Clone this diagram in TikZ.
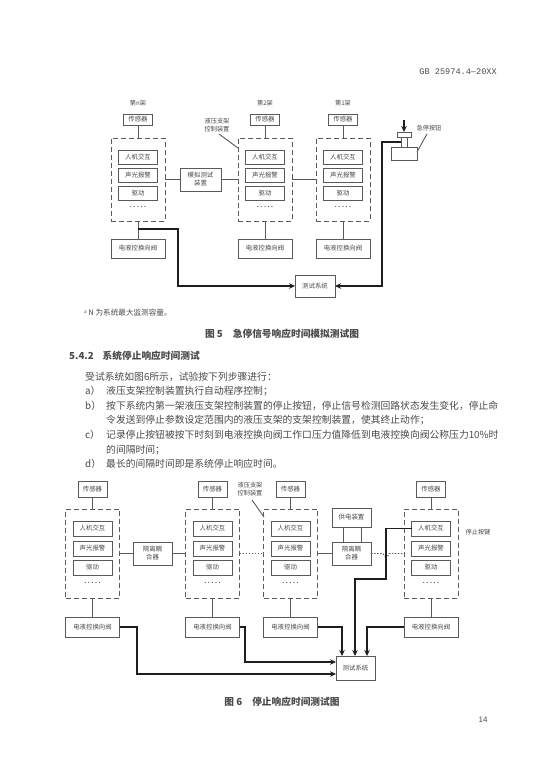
\documentclass[tikz,border=0pt]{standalone}
\usepackage{fontspec}
\setmainfont{Noto Sans CJK SC}
\newfontfamily\latinmono{Liberation Mono}
\newfontfamily\latinsans{Liberation Sans}
\usetikzlibrary{arrows.meta}
\definecolor{ink}{HTML}{4A4A4A}
\definecolor{linec}{HTML}{5A5A5A}
\definecolor{heavy}{HTML}{1E1E1E}
\tikzset{
 box/.style={draw=linec,line width=0.9pt,inner sep=0pt,outer sep=0pt,align=center,text=ink,font=\fontsize{6.4}{8}\selectfont},
 dashbox/.style={draw=linec,line width=0.9pt,dash pattern=on 5pt off 3pt,inner sep=0pt,outer sep=0pt},
 thin link/.style={draw=linec,line width=0.9pt},
 dot link/.style={draw=linec,line width=0.8pt,dash pattern=on 1.5pt off 1.5pt},
 heavy link/.style={draw=heavy,line width=1.7pt,line join=miter},
 heavy arrow/.style={heavy link,-{Stealth[length=6pt,width=5.5pt]}},
 lab/.style={inner sep=0pt,text=ink,align=center,font=\fontsize{6.2}{7.6}\selectfont},
 body/.style={inner sep=0pt,anchor=west,text=ink,font=\fontsize{9.8}{11}\selectfont},
 capt/.style={inner sep=0pt,text=ink,font=\fontsize{9.7}{11}\selectfont\bfseries},
}
% style, name, x1, y1, x2, y2, text
\newcommand\bx[7]{%
 \pgfmathsetmacro\rkW{#5-#3}\pgfmathsetmacro\rkH{#6-#4}%
 \pgfmathsetmacro\rkX{(#5+#3)/2}\pgfmathsetmacro\rkY{(#6+#4)/2}%
 \node[#1,minimum width=\rkW pt,minimum height=\rkH pt] (#2) at (\rkX,\rkY) {#7};}
\newcommand\rackgen[2]{%
 \pgfmathsetmacro\rkSL{#2-14.5}\pgfmathsetmacro\rkSR{#2+14.5}%
 \pgfmathsetmacro\rkDL{#2-27}\pgfmathsetmacro\rkDR{#2+27}%
 \pgfmathsetmacro\rkIL{#2-19.5}\pgfmathsetmacro\rkIR{#2+19.5}%
 \bx{box}{#1s}{\rkSL}{\rkST}{\rkSR}{\rkSB}{传感器}
 \bx{dashbox}{#1d}{\rkDL}{\rkDT}{\rkDR}{\rkDB}{}
 \bx{box}{#1a}{\rkIL}{\rkIA}{\rkIR}{\rkIAb}{人机交互}
 \bx{box}{#1b}{\rkIL}{\rkIB}{\rkIR}{\rkIBb}{声光报警}
 \bx{box}{#1c}{\rkIL}{\rkIC}{\rkIR}{\rkICb}{驱动}
 \node[lab,font=\latinsans\fontsize{7}{8}\selectfont\bfseries] (#1e) at (#2,\rkDY) {.\hspace{1.6pt}.\hspace{1.6pt}.\hspace{1.6pt}.\hspace{1.6pt}.};
 \bx{box}{#1v}{\rkDL}{\rkVT}{\rkDR}{\rkVB}{电液控换向阀}
 \draw[thin link] (#1s.south) -- (#1d.north);
 \draw[thin link] (#1d.south) -- (#1v.north);}
\newcommand\rackA[2]{%
 \def\rkST{114}\def\rkSB{125}\def\rkDT{138}\def\rkDB{221}%
 \def\rkIA{150}\def\rkIAb{164}\def\rkIB{168}\def\rkIBb{182}\def\rkIC{186}\def\rkICb{200}%
 \def\rkDY{207}\def\rkVT{239}\def\rkVB{258}\rackgen{#1}{#2}}
\newcommand\rackB[2]{%
 \def\rkST{481}\def\rkSB{497}\def\rkDT{509}\def\rkDB{598}%
 \def\rkIA{521}\def\rkIAb{536}\def\rkIB{541}\def\rkIBb{556}\def\rkIC{560}\def\rkICb{575}%
 \def\rkDY{583}\def\rkVT{617}\def\rkVB{637}\rackgen{#1}{#2}}
\begin{document}
\begin{tikzpicture}[x=1pt,y=-1pt]
\fill[white] (0,0) rectangle (550,778);
\useasboundingbox (0,0) rectangle (550,778);
% header
\node[inner sep=0pt,anchor=east,text=ink,font=\latinmono\fontsize{8.6}{10}\selectfont] (hdr) at (497,72) {GB 25974.4—20XX};
% ---------- figure 5
\rackA{p}{138}
\rackA{q}{265}
\rackA{r}{343}
\node[lab] (ln) at (138,103) {第n架};
\node[lab] (l2) at (265,103) {第2架};
\node[lab] (l1) at (343,103) {第1架};
\node[lab] (ctl) at (217,125) {液压支架\\控制装置};
\coordinate (ctlfrom) at (219,134);
\coordinate (ctlto) at (238,148);
\draw[thin link] (ctlfrom) -- (ctlto);
\bx{box}{sim}{180}{168}{221}{191}{模拟测试\\装置}
\draw[thin link] (pd.east) -- (sim.west);
\draw[thin link] (sim.east) -- (qd.west);
\draw[thin link] (qd.east) -- (rd.west);
\bx{box}{tst}{295}{275}{335}{297}{测试系统}
% emergency stop button
\bx{box}{ebase}{391}{147}{417}{160}{}
\bx{box}{estem}{401}{137}{407}{147}{}
\bx{box}{ecap}{397}{132}{411}{137}{}
\coordinate (epush) at (404,120);
\draw[heavy arrow] (epush) -- (ecap.north);
\node[lab] (elab) at (429,128) {急停按钮};
\coordinate (efrom) at (417,152);
\coordinate (eto) at (427,134);
\draw[thin link] (efrom) -- (eto);
\coordinate (jp) at (138,229);
\draw[heavy arrow] (jp) -| (178,286) -- (tst.west);
\draw[heavy arrow] (estem.west) -| (382,286) -- (tst.east);
\node[inner sep=0pt,anchor=west,text=ink,font=\fontsize{7.6}{9}\selectfont] (note) at (84,313) {\raisebox{2pt}{\fontsize{4.5}{5}\selectfont a} N 为系统最大监测容量。};
\node[capt] (cap5) at (282,334) {图 5\hspace{10pt}急停信号响应时间模拟测试图};
% ---------- text
\node[capt,anchor=west] (sec) at (69,356) {5.4.2\hspace{9pt}系统停止响应时间测试};
\node[body] (t0) at (85,377) {受试系统如图6所示，试验按下列步骤进行：};
\node[body] (t1) at (85,391) {a）};
\node[body] (t1b) at (106,391) {液压支架控制装置执行自动程序控制；};
\node[body] (t2) at (85,406) {b）};
\node[body] (t2b) at (106,406) {按下系统内第一架液压支架控制装置的停止按钮，停止信号检测回路状态发生变化，停止命};
\node[body] (t2c) at (106,420) {令发送到停止参数设定范围内的液压支架的支架控制装置，使其终止动作；};
\node[body] (t3) at (85,435) {c）};
\node[body] (t3b) at (106,435) {记录停止按钮被按下时刻到电液控换向阀工作口压力值降低到电液控换向阀公称压力10\%时};
\node[body] (t3c) at (106,450) {的间隔时间；};
\node[body] (t4) at (85,464) {d）};
\node[body] (t4b) at (106,464) {最长的间隔时间即是系统停止响应时间。};
% ---------- figure 6
\rackB{a}{92.5}
\rackB{b}{212.5}
\rackB{c}{290.5}
\rackB{e}{431}
\node[lab] (ctl6) at (250,489) {液压支架\\控制装置};
\coordinate (c6from) at (252,500);
\coordinate (c6to) at (264,517);
\draw[thin link] (c6from) -- (c6to);
\bx{box}{cp1}{133}{542}{172}{565}{隔离耦\\合器}
\bx{box}{cp2}{332}{542}{371}{565}{隔离耦\\合器}
\bx{box}{pw}{332}{508}{371}{527}{供电装置}
\draw[thin link] (343,527) -- (343,542);
\draw[thin link] (361,527) -- (361,542);
\draw[thin link] (ad.east) -- (cp1.west);
\draw[thin link] (cp1.east) -- (bd.west);
\draw[dot link] (bd.east) -- (cd.west);
\draw[thin link] (cd.east) -- (cp2.west);
\draw[dot link] (cp2.east) -- (383,553.5) arc[start angle=180,end angle=0,radius=3] -- (ed.west);
\node[lab] (stoplab) at (478,532) {停止按键};
\bx{box}{tst6}{336}{656}{375}{680}{测试系统}
\draw[heavy arrow] (av.east) -- (137,627) |- (tst6.west |- 0,674);
\draw[heavy arrow] (bv.east) -- (245,627) |- (tst6.west |- 0,662);
\draw[heavy arrow] (cv.east) -| (tst6.north -| 342,0);
\draw[heavy arrow] (ev.west) -| (tst6.north -| 367,0);
\draw[heavy arrow] (ea.west) -- (386,528.5) -- (386,579) -- (355,579) -- (tst6.north -| 355,0);
\node[capt] (cap6) at (282,702) {图 6\hspace{10pt}停止响应时间测试图};
\node[inner sep=0pt,text=ink,font=\latinsans\fontsize{8}{9}\selectfont] (pg) at (483,720) {14};
\end{tikzpicture}
\end{document}
